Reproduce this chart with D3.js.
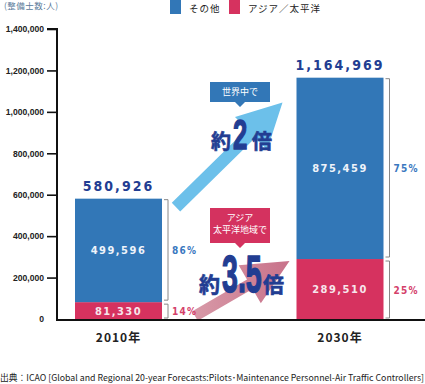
<!DOCTYPE html>
<html><head><meta charset="utf-8">
<script src="https://cdn.jsdelivr.net/npm/d3@7"></script>
<style>
html,body{margin:0;padding:0;background:#fff;}
svg{display:block;}
</style></head>
<body>
<script>
// ---- data ----
const categories = ["2010年", "2030年"];
const seriesNames = ["その他", "アジア／太平洋"];
const otherValues = [499596, 875459];
const asiaValues = [81330, 289510];
const totals = [580926, 1164969];
const otherPct = ["86%", "75%"];
const asiaPct = ["14%", "25%"];
const yTicks = [0, 200000, 400000, 600000, 800000, 1000000, 1200000, 1400000];
const unitLabel = "(整備士数:人)";
const sourceText = "出典：ICAO [Global and Regional 20-year Forecasts:Pilots･Maintenance Personnel-Air Traffic Controllers]";

const W = 425, H = 384;
const BLUE = "#3277b7", PINK = "#d6325f", NAVY = "#223d92";
const JP = "'Noto Sans CJK JP', sans-serif";
const NUM = "'DejaVu Sans Condensed', 'Liberation Sans', sans-serif";
const ARIAL = "'Liberation Sans', Arial, sans-serif";

const svg = d3.select("body").append("svg").attr("width", W).attr("height", H);

const y = d3.scaleLinear().domain([0, 1400000]).range([319, 29]);
const x = d3.scalePoint().domain(categories).range([118.5, 340]);
const bw = 87;

// legend
const legend = [{name: seriesNames[0], c: BLUE, x: 170}, {name: seriesNames[1], c: PINK, x: 229}];
legend.forEach(l => {
  svg.append("rect").attr("x", l.x).attr("y", 0).attr("width", 11).attr("height", 14).attr("fill", l.c);
  svg.append("text").attr("x", l.x + 19).attr("y", 12).attr("font-family", JP).attr("font-size", 9.5)
    .attr("fill", "#222").attr("letter-spacing", 1).text(l.name);
});

// unit label
svg.append("text").attr("x", 4).attr("y", 9).attr("font-family", JP).attr("font-size", 8.5)
  .attr("letter-spacing", 0.5).attr("fill", "#5a7a9a").text(unitLabel);

// arrows (decorations)
function arrowPath(tail, tip, sw, hw, hl) {
  const dx = tip[0] - tail[0], dy = tip[1] - tail[1];
  const L = Math.hypot(dx, dy), ux = dx / L, uy = dy / L, px = -uy, py = ux;
  const b = [tip[0] - ux * hl, tip[1] - uy * hl];
  const pts = [
    [tail[0] + px * sw / 2, tail[1] + py * sw / 2],
    [b[0] + px * sw / 2, b[1] + py * sw / 2],
    [b[0] + px * hw / 2, b[1] + py * hw / 2],
    tip,
    [b[0] - px * hw / 2, b[1] - py * hw / 2],
    [b[0] - px * sw / 2, b[1] - py * sw / 2],
    [tail[0] - px * sw / 2, tail[1] - py * sw / 2]
  ];
  return "M" + pts.map(p => p.join(",")).join("L") + "Z";
}
const defs = svg.append("defs");
const g1 = defs.append("linearGradient").attr("id", "pg").attr("x1", "0").attr("x2", "1").attr("y1", "0").attr("y2", "0");
g1.append("stop").attr("offset", "0").attr("stop-color", "#d89aa8");
g1.append("stop").attr("offset", "1").attr("stop-color", "#c8728a");

const xr0 = x(categories[0]) + bw / 2, xl1 = x(categories[1]) - bw / 2;
svg.append("path").attr("d", arrowPath([xr0 + 14, y(540000)], [xl1 - 14, y(1045000)], 12, 46, 44)).attr("fill", "#6cc0ea");
svg.append("path").attr("d", arrowPath([xr0 + 33, y(14000)], [xl1 - 7, y(280000)], 11, 44, 46)).attr("fill", "url(#pg)");

// bars
categories.forEach((c, i) => {
  const x0 = x(c) - bw / 2;
  svg.append("rect").attr("x", x0).attr("width", bw).attr("y", y(asiaValues[i])).attr("height", y(0) - y(asiaValues[i])).attr("fill", PINK);
  svg.append("rect").attr("x", x0).attr("width", bw).attr("y", y(asiaValues[i] + otherValues[i])).attr("height", y(asiaValues[i]) - y(asiaValues[i] + otherValues[i])).attr("fill", BLUE);
  // inner labels
  svg.append("text").attr("x", x(c)).attr("y", (y(asiaValues[i]) + y(asiaValues[i] + otherValues[i])) / 2 + 4)
    .attr("text-anchor", "middle").attr("font-family", NUM).attr("font-weight", "bold").attr("font-size", 11)
    .attr("letter-spacing", 1.5).attr("fill", "#eef3fa").text(d3.format(",")(otherValues[i]));
  svg.append("text").attr("x", x(c)).attr("y", (y(0) + y(asiaValues[i])) / 2 + 4)
    .attr("text-anchor", "middle").attr("font-family", NUM).attr("font-weight", "bold").attr("font-size", 11)
    .attr("letter-spacing", 1.5).attr("fill", "#f6e6ec").text(d3.format(",")(asiaValues[i]));
  // totals
  svg.append("text").attr("x", x(c)).attr("y", y(totals[i]) - 8)
    .attr("text-anchor", "middle").attr("font-family", NUM).attr("font-weight", "bold").attr("font-size", 14)
    .attr("letter-spacing", 2).attr("fill", NAVY).text(d3.format(",")(totals[i]));
  // brackets
  const bx = x(c) + bw / 2 + 2;
  const segs = [[y(asiaValues[i] + otherValues[i]) + 1, y(asiaValues[i]) - 2, otherPct[i], "#3a78c0"],
                [y(asiaValues[i]) + 2, y(0) - 1, asiaPct[i], "#d4406a"]];
  segs.forEach(s => {
    svg.append("path").attr("d", `M${bx},${s[0]}H${bx + 4}V${s[1]}H${bx}`).attr("fill", "none")
      .attr("stroke", "#888").attr("stroke-width", 1);
    svg.append("text").attr("x", bx + 8).attr("y", (s[0] + s[1]) / 2 + 4).attr("font-family", NUM)
      .attr("font-weight", "bold").attr("font-size", 10).attr("letter-spacing", 1.2).attr("fill", s[3]).text(s[2]);
  });
  // category label
  svg.append("text").attr("x", x(c)).attr("y", 342).attr("text-anchor", "middle").attr("font-family", JP)
    .attr("font-weight", "bold").attr("font-size", 12).attr("letter-spacing", 1).attr("fill", "#222").text(c);
});

// y axis
const axis = d3.axisLeft(y).tickValues(yTicks).tickSize(10).tickSizeOuter(0).tickFormat(d3.format(","));
const ga = svg.append("g").attr("transform", "translate(57,0)").call(axis);
ga.select(".domain").attr("stroke", "#111").attr("stroke-width", 2).attr("d", `M-10,${y(1400000)}H0V${y(0) + 1}`);
ga.selectAll(".tick line").attr("stroke", "#111").attr("stroke-width", 1.6);
ga.selectAll(".tick").filter(d => d === 0).select("line").remove();
ga.selectAll(".tick text").attr("font-family", ARIAL).attr("font-weight", "bold").attr("font-size", 8.6)
  .attr("fill", "#222").attr("x", -13);
// x axis line
svg.append("line").attr("x1", 56).attr("x2", W).attr("y1", y(0) + 1).attr("y2", y(0) + 1).attr("stroke", "#111").attr("stroke-width", 2);

// callouts
function callout(cx, top, h, fill, lines) {
  const w = 60;
  svg.append("path").attr("d", `M${cx - w / 2},${top}H${cx + w / 2}V${top + h}H${cx + 5}L${cx},${top + h + 5}L${cx - 5},${top + h}H${cx - w / 2}Z`).attr("fill", fill);
  lines.forEach((t, k) => {
    svg.append("text").attr("x", cx).attr("y", top + 13 + k * 12).attr("text-anchor", "middle").attr("font-family", JP)
      .attr("font-size", 9).attr("fill", "#fff").text(t);
  });
}
callout(240, 82, 20, BLUE, ["世界中で"]);
callout(240, 208, 35, "#d4325f", ["アジア", "太平洋地域で"]);

function bigText(xYaku, xNum, xBai, baseline, big, bigSize, smallSize, sx) {
  svg.append("text").attr("x", xYaku).attr("y", baseline).attr("fill", NAVY).attr("font-weight", "bold")
    .attr("stroke", NAVY).attr("stroke-width", 0.6)
    .attr("font-family", JP).attr("font-size", smallSize).text("約");
  svg.append("text").attr("transform", `translate(${xNum},${baseline}) scale(${sx},1)`).attr("fill", NAVY)
    .attr("stroke", NAVY).attr("stroke-width", 1.4)
    .attr("font-weight", "bold").attr("font-family", ARIAL).attr("font-size", bigSize).text(big);
  svg.append("text").attr("x", xBai).attr("y", baseline).attr("fill", NAVY).attr("font-weight", "bold")
    .attr("stroke", NAVY).attr("stroke-width", 0.6)
    .attr("font-family", JP).attr("font-size", smallSize).text("倍");
}
// 約2倍
bigText(211, 233, 252, 149, "2", 43, 20, 0.6);
// 約3.5倍
bigText(199, 222, 263, 292, "3.5", 51, 21, 0.56);

// source
svg.append("text").attr("x", 0).attr("y", 381).attr("font-family", JP).attr("font-size", 8.6).attr("fill", "#222")
  .attr("textLength", 424).attr("lengthAdjust", "spacingAndGlyphs").text(sourceText);
</script>
</body></html>
